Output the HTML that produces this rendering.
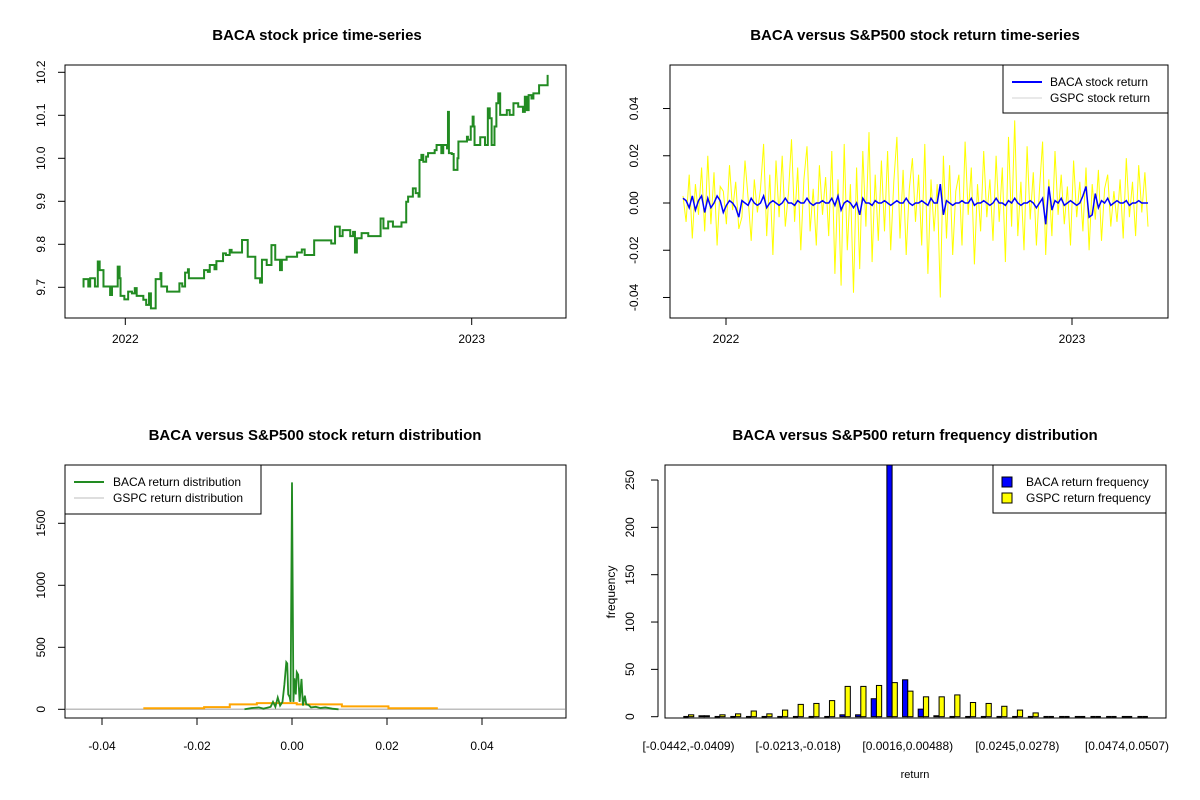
<!DOCTYPE html>
<html><head><meta charset="utf-8"><style>
body{margin:0;background:#fff}
svg{display:block;font-family:"Liberation Sans",Arial,sans-serif}
</style></head><body>
<svg id="s" width="1200" height="800" viewBox="0 0 1200 800"></svg>
<script>
// ---- Panel 1: BACA price (days since 2022-01-01, price) ----
const priceDays=[-45,-44,-39,-37,-32,-29,-27,-23,-18,-16,-14,-11,-8,-6,-5,-1,3,7,10,12,19,22,25,27,32,37,38,44,57,60,63,66,67,83,87,89,94,96,103,106,110,112,123,129,137,142,144,149,154,158,163,165,170,181,186,189,199,214,217,221,226,229,237,240,242,244,249,256,269,272,277,282,291,296,298,303,306,309,310,312,314,317,319,326,328,333,335,339,340,341,344,346,350,351,360,361,364,366,367,368,374,379,382,384,386,389,391,393,395,402,405,409,414,418,419,421,423,425,428,430,436,445];
const priceVals=[9.702,9.719,9.702,9.721,9.702,9.760,9.740,9.702,9.702,9.682,9.702,9.702,9.748,9.721,9.680,9.672,9.690,9.686,9.698,9.680,9.671,9.659,9.686,9.651,9.719,9.733,9.702,9.690,9.709,9.702,9.734,9.742,9.721,9.740,9.736,9.752,9.742,9.761,9.779,9.775,9.787,9.781,9.810,9.771,9.721,9.711,9.764,9.752,9.798,9.764,9.740,9.764,9.771,9.781,9.788,9.775,9.809,9.809,9.802,9.841,9.819,9.833,9.819,9.829,9.781,9.814,9.826,9.819,9.860,9.837,9.853,9.841,9.851,9.899,9.911,9.930,9.919,9.911,9.996,10.008,9.992,10.004,10.012,10.019,10.031,10.012,10.031,10.023,10.108,10.012,10.010,9.973,10.000,10.039,10.050,10.043,10.074,10.097,10.074,10.031,10.049,10.031,10.116,10.093,10.031,10.074,10.128,10.151,10.101,10.112,10.101,10.128,10.120,10.120,10.108,10.143,10.112,10.147,10.139,10.151,10.170,10.194];
const priceTicks=[9.7,9.8,9.9,10.0,10.1,10.2];
const yearLabels=["2022","2023"];
const yearDays=[0,365];
// ---- Panel 2: returns (%) ----
const gspcRet=[0.3,-0.8,1.2,-1.5,0.8,-0.5, 1.5,-1.2,2.0,-0.9,1.3,-1.8,0.7, 0.5,-0.9,1.6,-0.3,0.9,-1.1, -0.6,1.8,0.2,-1.6,1.0,-0.4,0.6, 2.5,-1.4,1.2,-2.2,1.8,-0.6,2.0,-1.0,0.4, 2.7,-0.8,1.5,-2.0,1.0,2.4,-1.2,0.6,-1.8,1.6,-0.5,1.1,-1.4, 2.2,-3.0,1.0,-3.5,2.5,-2.0,0.8,-3.8,1.5,-2.8,2.2,-1.0,3.0,-2.5,1.2,-1.6, 1.8,-1.2,2.2,-2.0,0.9,2.8,-1.5,1.4,-2.2,0.6,1.9,-0.8,1.2, -1.8,2.5,-3.0,1.0,-1.2,0.8,-4.0,2.0,-1.5,1.6,-2.2,0.5,1.2, -1.8,2.6,-0.5,1.5,-2.6,0.8,-1.2,2.2,-0.6,1.0,-1.6,2.0,-0.8, 1.5,-2.5,2.8,-1.0,3.5,-1.4,0.9,-2.0,2.4,-0.7,1.3,-1.8,0.6, 2.6,-2.2,1.0,-1.4,2.2,-0.5,1.2,-0.9,0.7,-1.8,1.8,-0.6,0.9, -1.2,1.5,-2.0,0.8,-0.7,1.4,-1.6,0.6,1.2,-1.0,0.5,-0.8,1.0, -1.5,1.9,-0.6,0.9,-1.4,1.6,-0.4,1.3,-1.0];
const bacaRet=[0.2,0.1,-0.2,0.3,-0.3,0.1, 0.3,-0.4,0.2,-0.2,0,0.3,0.1, -0.4,-0.1,0.1,0,-0.2,-0.6, 0.1,0,-0.1,0.2,0,-0.1,0, 0.3,-0.2,0,0.1,0,-0.1,0,0.2,0, 0,-0.1,0.1,0,0,0.2,0,-0.1,0,0,0.1,0,0, 0.2,-0.1,0.3,-0.3,0,0.1,0,-0.2,0,-0.5,0.2,0,0,-0.1,0.1,0, 0,0.1,0,-0.1,0,0.1,0,0,0.2,0,-0.1,0,0, 0.1,0,-0.1,0.2,0,0,0.8,-0.5,0.1,0,-0.1,0,0, 0.1,0,0,0.2,-0.1,0,0,0.1,0,-0.1,0,0.2,0, 0,-0.1,0.1,0,0.2,0,-0.1,0,0,0.1,0,-0.2,0, 0.2,-0.9,0.7,-0.3,0.1,0,0.2,-0.1,0,0.1,0,-0.1,0, 0.3,0.7,-0.6,-0.5,0.4,-0.2,0.1,0,0.2,-0.1,0,0.1,0, 0,0.1,-0.1,0,0,0.1,0,0,0];
const retTicks=[-0.04,-0.02,0.00,0.02,0.04];
// ---- Panel 3: densities ----
const bacaDensX=[-0.0100,-0.0085,-0.0070,-0.0060,-0.0045,-0.0040,-0.0035,-0.0030,-0.0025,-0.0020,-0.0016,-0.0012,-0.0010,-0.0008,-0.0005,-0.0003,0,0.0003,0.0005,0.0008,0.0010,0.0013,0.0016,0.0020,0.0023,0.0027,0.0030,0.0035,0.0040,0.0050,0.0060,0.0070,0.0085,0.0098];
const bacaDensY=[0,10,15,5,20,60,20,95,30,60,200,380,370,120,100,60,1830,60,250,120,300,280,60,245,30,110,40,35,15,20,10,15,5,0];
const gspcBreaks=[-0.0313,-0.0185,-0.0131,-0.0074,0.0010,0.0105,0.0203,0.0307];
const gspcDens=[8,18,40,50,40,24,8];
const densYTicks=[0,500,1000,1500];
const densXTicks=[-0.04,-0.02,0.00,0.02,0.04];
// ---- Panel 4: frequency ----
const binLabels=["[-0.0442,-0.0409)","[-0.0213,-0.018)","[0.0016,0.00488)","[0.0245,0.0278)","[0.0474,0.0507)"];
const binLabelIdx=[0,7,14,21,28];
const bacaFreq=[0,1,0,0,0,0,0,0,0,0,2,2,19,266,39,8,1,0,0,0,0,0,0,0,0,0,0,0,0,0];
const gspcFreq=[2,1,2,3,6,3,7,13,14,17,32,32,33,36,27,21,21,23,15,14,11,7,4,0,0,0,0,0,0,0];
const freqTicks=[0,50,100,150,200,250];

const NS="http://www.w3.org/2000/svg";
const svg=document.getElementById('s');
function el(tag,attrs,parent,text){const e=document.createElementNS(NS,tag);for(const k in attrs)e.setAttribute(k,attrs[k]);if(text!==undefined)e.textContent=text;(parent||svg).appendChild(e);return e;}
function txt(x,y,s,size,opts,name){
  const t=el('text',Object.assign({x:x,y:y,'font-size':size,'text-anchor':'middle',fill:'#000'},opts||{}),svg,s);
  
  
  return t;}
function box(x1,y1,x2,y2,name){const r=el('rect',{x:x1,y:y1,width:x2-x1,height:y2-y1,fill:'none',stroke:'#000','stroke-width':1});
  
  }
function line(x1,y1,x2,y2,c,w){return el('line',{x1:x1,y1:y1,x2:x2,y2:y2,stroke:c||'#000','stroke-width':w||1});}
function ytickRot(x,y,s,name){const t=txt(x,y,s,12,{transform:`rotate(-90 ${x} ${y})`},name);}

// ===== Panel 1 =====
{
const X=d=>125.3+d*(471.7-125.3)/365;
const Y=v=>287.3-(v-9.7)*430;
txt(317,40,"BACA stock price time-series",15,{'font-weight':'bold'},'price-chart-title');
let p="";
priceDays.forEach((d,i)=>{const x=X(d),y=Y(priceVals[i]);if(i===0)p+=`M${x},${y}`;else p+=`H${x}V${y}`;});
const pl=el('path',{d:p,fill:'none',stroke:'#228b22','stroke-width':2});


box(65,65,566,318,'price-plot-box');
priceTicks.forEach(v=>{line(58,Y(v),65,Y(v));ytickRot(45,Y(v),v.toFixed(1),'price-y-tick');});
yearDays.forEach((d,i)=>{line(X(d),318,X(d),325);txt(X(d),343,yearLabels[i],12,{},'price-x-tick');});
}
// ===== Panel 2 =====
{
const X=i=>683+i*3.1;
const Y=v=>203-v*23.62;
txt(915,40,"BACA versus S&P500 stock return time-series",15,{'font-weight':'bold'},'return-chart-title');
const py=el('polyline',{points:gspcRet.map((v,i)=>`${X(i)},${Y(v)}`).join(' '),fill:'none',stroke:'#ffff00','stroke-width':1});


const pb=el('polyline',{points:bacaRet.map((v,i)=>`${X(i)},${Y(v)}`).join(' '),fill:'none',stroke:'#0000ff','stroke-width':1.5});


box(670,65,1168,318,'return-plot-box');
retTicks.forEach(v=>{const y=Y(v*100);line(663,y,670,y);ytickRot(638,y,v.toFixed(2),'return-y-tick');});
const Xd=d=>726+d*(1072-726)/365;
yearDays.forEach((d,i)=>{line(Xd(d),318,Xd(d),325);txt(Xd(d),343,yearLabels[i],12,{},'return-x-tick');});
box(1003,65,1168,113,'return-legend');
line(1012,82,1042,82,'#0000ff',2);line(1012,98,1042,98,'#d3d3d3',1);
txt(1050,86,"BACA stock return",12,{'text-anchor':'start'},'legend-baca-return');
txt(1050,102,"GSPC stock return",12,{'text-anchor':'start'},'legend-gspc-return');
}
// ===== Panel 3 =====
{
const X=v=>292+v*4750;
const Y=v=>709.3-v*0.124;
txt(315,440,"BACA versus S&P500 stock return distribution",15,{'font-weight':'bold'},'distribution-chart-title');
const g=el('line',{x1:66,y1:Y(0),x2:565,y2:Y(0),stroke:'#bebebe','stroke-width':1.5});


let op="";
gspcDens.forEach((d,i)=>{const x1=X(gspcBreaks[i]),x2=X(gspcBreaks[i+1]),y=Y(d);op+=(i===0?`M${x1},${y}`:`V${y}`)+`H${x2}`;});
const o=el('path',{d:op,fill:'none',stroke:'#ffa500','stroke-width':2});


const gr=el('polyline',{points:bacaDensX.map((v,i)=>`${X(v)},${Y(bacaDensY[i])}`).join(' '),fill:'none',stroke:'#228b22','stroke-width':1.8});


box(65,465,566,718,'distribution-plot-box');
densYTicks.forEach(v=>{line(58,Y(v),65,Y(v));ytickRot(45,Y(v),String(v),'density-y-tick');});
densXTicks.forEach(v=>{line(X(v),718,X(v),725);txt(X(v),750,v.toFixed(2),12,{},'density-x-tick');});
box(65,465,261,514,'distribution-legend');
line(74,482,104,482,'#228b22',2);line(74,498,104,498,'#bebebe',1);
txt(113,486,"BACA return distribution",12,{'text-anchor':'start'},'legend-baca-distribution');
txt(113,502,"GSPC return distribution",12,{'text-anchor':'start'},'legend-gspc-distribution');
}
// ===== Panel 4 =====
{
const U=5.22;
const X=u=>683.3+(u-1)*U;
const Y=v=>716.7-v*0.9467;
txt(915,440,"BACA versus S&P500 return frequency distribution",15,{'font-weight':'bold'},'frequency-chart-title');
function bar(x,v,fill,name){
  if(v<=0){const l=line(x,Y(0),x+U,Y(0),'#000',1.5);
    
    return;}
  const y=Math.max(465,Y(v));
  const r=el('rect',{x:x,y:y,width:U,height:Y(0)-y,fill:fill,stroke:'#000','stroke-width':1});
  
  
}
bacaFreq.forEach((v,i)=>bar(X(1+3*i),v,'#0000ff','baca-frequency-bar'));
gspcFreq.forEach((v,i)=>bar(X(2+3*i),v,'#ffff00','gspc-frequency-bar'));
box(665,465,1166,718,'frequency-plot-box');
line(658,Y(0),658,Y(250));
freqTicks.forEach(v=>{line(651,Y(v),658,Y(v));ytickRot(634,Y(v),String(v),'frequency-y-tick');});
binLabelIdx.forEach((b,i)=>txt(X(2+3*b),750,binLabels[i],12,{},'frequency-x-tick'));
txt(915,778,"return",11,{},'frequency-x-axis-title');
ytickRot(615,592,"frequency",'frequency-y-axis-title');
box(993,465,1166,513,'frequency-legend');
const l1=el('rect',{x:1002,y:477,width:10,height:10,fill:'#0000ff',stroke:'#000'});


const l2=el('rect',{x:1002,y:493,width:10,height:10,fill:'#ffff00',stroke:'#000'});


txt(1026,486,"BACA return frequency",12,{'text-anchor':'start'},'legend-baca-frequency');
txt(1026,502,"GSPC return frequency",12,{'text-anchor':'start'},'legend-gspc-frequency');
}
</script>
</body></html>
